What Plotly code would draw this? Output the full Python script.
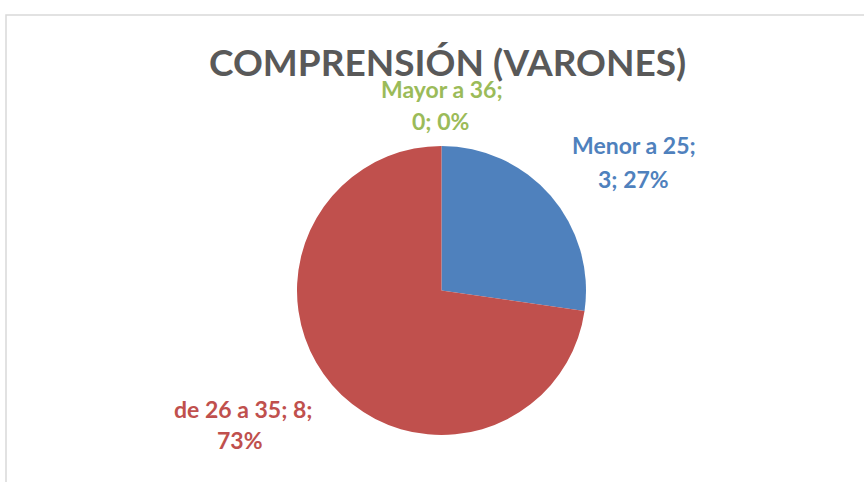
import plotly.graph_objects as go

title = "COMPRENSIÓN (VARONES)"
categories = ["Menor a 25", "de 26 a 35", "Mayor a 36"]
values = [3, 8, 0]
colors = ["#4F81BD", "#C0504D", "#9BBB59"]

W, H = 864, 482
FONT = "Lato"

total = sum(values)
pcts = [round(v * 100 / total) for v in values]

fig = go.Figure()
fig.add_trace(go.Pie(
    labels=categories,
    values=values,
    sort=False,
    direction="clockwise",
    rotation=0,
    marker=dict(colors=colors, line=dict(width=0)),
    textinfo="none",
    hoverinfo="label+value+percent",
    showlegend=False,
    domain=dict(x=[297 / W, 586 / W], y=[1 - 435 / H, 1 - 146 / H]),
))

# label lines (as in reference wrapping)
lines = [
    [(f"{categories[0]};", 634, 145), (f"{values[0]}; {pcts[0]}%", 633, 179)],
    [(f"{categories[1]}; {values[1]};", 243, 409), (f"{pcts[1]}%", 240, 440)],
    [(f"{categories[2]};", 442, 89), (f"{values[2]}; {pcts[2]}%", 441, 121)],
]
annotations = []
for i, group in enumerate(lines):
    for txt, px, py in group:
        annotations.append(dict(
            text=txt, x=px / W, y=1 - py / H, xref="paper", yref="paper",
            xanchor="center", yanchor="middle", showarrow=False,
            font=dict(family=FONT, size=23, color=colors[i], weight="bold"),
        ))

annotations.append(dict(
    text=title, x=447 / W, y=1 - 61 / H, xref="paper", yref="paper",
    xanchor="center", yanchor="middle", showarrow=False,
    font=dict(family=FONT, size=37, color="#595959", weight="bold"),
))

fig.update_layout(
    width=W, height=H,
    margin=dict(l=0, r=0, t=0, b=0),
    paper_bgcolor="white",
    plot_bgcolor="white",
    annotations=annotations,
    shapes=[dict(type="rect", xref="paper", yref="paper",
                 x0=6 / W, x1=1.05, y0=-0.05, y1=1 - 15 / H,
                 line=dict(color="#D9D9D9", width=1.5), layer="below")],
)

fig.write_html("out.html",
               config={"displayModeBar": False},
               post_script="document.body.style.margin='0';document.body.style.overflow='hidden';")
